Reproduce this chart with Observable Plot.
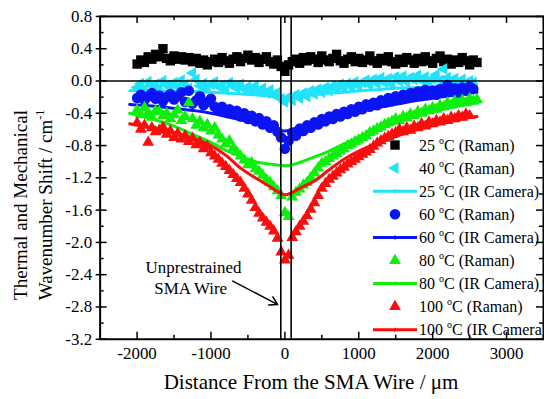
<!DOCTYPE html>
<html><head><meta charset="utf-8">
<script src="https://cdn.jsdelivr.net/npm/d3@7"></script>
<script src="https://cdn.jsdelivr.net/npm/@observablehq/plot@0.6"></script>
<style>
html,body{margin:0;padding:0;background:#fff;}
#wrap{position:relative;width:544px;height:399px;overflow:hidden;}
</style></head><body><div id="wrap"></div>
<script>
// ---- data ----
const distance = [-2000,-1950,-1900,-1850,-1800,-1750,-1700,-1650,-1600,-1550,
  -1500,-1450,-1400,-1350,-1300,-1250,-1200,-1150,-1100,-1050,
  -1000,-950,-900,-850,-800,-750,-700,-650,-600,-550,
  -500,-450,-400,-350,-300,-250,-200,-150,-100,-50,
  0,50,100,150,200,250,300,350,400,450,
  500,550,600,650,700,750,800,850,900,950,
  1000,1050,1100,1150,1200,1250,1300,1350,1400,1450,
  1500,1550,1600,1650,1700,1750,1800,1850,1900,1950,
  2000,2050,2100,2150,2200,2250,2300,2350,2400,2450,
  2500,2550,2600];
const raman25 = [0.21,0.26,0.23,0.30,0.27,0.33,0.30,0.40,0.28,0.25,
  0.31,0.27,0.30,0.26,0.29,0.24,0.28,0.22,0.26,0.20,
  0.24,0.27,0.23,0.29,0.25,0.22,0.27,0.30,0.24,0.28,
  0.32,0.26,0.29,0.23,0.27,0.30,0.24,0.21,0.26,0.18,
  0.12,0.20,0.24,0.27,0.22,0.29,0.25,0.30,0.27,0.23,
  0.31,0.26,0.24,0.28,0.33,0.25,0.22,0.27,0.30,0.24,
  0.28,0.23,0.26,0.31,0.25,0.22,0.28,0.25,0.30,0.24,
  0.21,0.27,0.23,0.29,0.26,0.22,0.28,0.24,0.30,0.25,
  0.22,0.28,0.31,0.24,0.27,0.21,0.26,0.23,0.29,0.25,
  0.20,0.26,0.23];
const raman40 = [-0.08,-0.03,-0.10,-0.01,-0.06,-0.04,-0.09,0.00,-0.05,-0.08,
  -0.02,-0.07,0.01,-0.04,-0.09,0.10,0.02,-0.06,-0.03,-0.10,
  -0.04,-0.01,-0.07,-0.05,-0.11,-0.02,-0.06,-0.09,-0.04,-0.10,
  -0.07,-0.12,-0.06,-0.13,-0.09,-0.15,-0.11,-0.17,-0.14,-0.22,
  -0.26,-0.20,-0.24,-0.17,-0.21,-0.15,-0.19,-0.12,-0.16,-0.10,
  -0.14,-0.08,-0.12,-0.06,-0.10,-0.04,-0.09,-0.03,-0.07,-0.01,
  -0.06,-0.02,0.01,-0.05,0.02,-0.03,0.04,-0.02,0.03,-0.04,
  0.05,0.00,0.06,-0.01,0.04,0.02,0.07,0.01,0.05,-0.02,
  0.03,0.08,0.01,0.15,0.04,-0.01,0.03,-0.03,0.02,-0.04,
  0.00,-0.02,null];
const raman60 = [-0.21,-0.17,-0.24,-0.19,-0.15,-0.22,-0.18,-0.25,-0.20,-0.16,
  -0.23,-0.19,-0.14,-0.26,-0.12,-0.28,-0.24,-0.19,-0.30,-0.26,
  -0.22,-0.32,-0.36,-0.32,-0.38,-0.35,-0.41,-0.37,-0.44,-0.40,
  -0.47,-0.43,-0.50,-0.46,-0.54,-0.50,-0.58,-0.55,-0.63,-0.70,
  -0.84,-0.74,-0.64,-0.68,-0.59,-0.62,-0.55,-0.58,-0.51,-0.54,
  -0.47,-0.50,-0.44,-0.47,-0.41,-0.44,-0.38,-0.41,-0.35,-0.38,
  -0.32,-0.35,-0.29,-0.32,-0.27,-0.30,-0.24,-0.27,-0.21,-0.25,
  -0.19,-0.23,-0.17,-0.21,-0.15,-0.19,-0.13,-0.18,-0.11,-0.16,
  -0.12,-0.17,-0.10,-0.14,-0.05,-0.12,-0.09,-0.15,-0.08,-0.12,
  -0.07,-0.10,null];
const raman80 = [-0.36,-0.42,-0.33,-0.39,-0.45,-0.37,-0.38,-0.43,-0.40,-0.47,
  -0.42,-0.36,-0.49,-0.44,-0.27,-0.47,-0.55,-0.50,-0.58,-0.54,
  -0.62,-0.58,-0.67,-0.72,-0.78,-0.74,-0.83,-0.88,-0.93,-0.98,
  -1.04,-1.01,-1.09,-1.12,-1.17,-1.22,-1.26,-1.31,-1.36,-1.42,
  -1.63,-1.68,-1.44,-1.38,-1.34,-1.29,-1.26,-1.20,-1.14,-1.08,
  -1.02,-1.00,-0.96,-0.93,-0.90,-0.87,-0.84,-0.80,-0.78,-0.75,
  -0.73,-0.70,-0.68,-0.64,-0.62,-0.59,-0.57,-0.54,-0.52,-0.50,
  -0.47,-0.49,-0.44,-0.46,-0.41,-0.43,-0.38,-0.40,-0.35,-0.37,
  -0.33,-0.35,-0.30,-0.32,-0.27,-0.30,-0.25,-0.28,-0.24,-0.27,
  -0.22,-0.25,-0.23];
const raman100 = [-0.52,-0.60,-0.55,-0.76,-0.58,-0.63,-0.61,-0.57,-0.66,-0.62,
  -0.70,-0.65,-0.72,-0.68,-0.75,-0.71,-0.79,-0.76,-0.84,-0.81,
  -0.89,-0.93,-0.97,-1.02,-1.06,-1.11,-1.16,-1.21,-1.26,-1.33,
  -1.40,-1.48,-1.57,-1.64,-1.70,-1.75,-1.80,-1.86,-1.95,-2.12,
  -2.22,-2.16,-1.94,-1.87,-1.80,-1.74,-1.67,-1.59,-1.51,-1.42,
  -1.33,-1.27,-1.22,-1.18,-1.14,-1.10,-1.07,-1.03,-1.00,-0.97,
  -0.94,-0.91,-0.88,-0.85,-0.81,-0.77,-0.74,-0.71,-0.69,-0.66,
  -0.64,-0.60,-0.63,-0.58,-0.61,-0.56,-0.58,-0.53,-0.56,-0.51,
  -0.53,-0.49,-0.51,-0.47,-0.49,-0.45,-0.47,-0.43,-0.45,-0.41,
  -0.43,null,null];

const irDistance = [-2100,-1800,-1500,-1200,-1000,-800,-600,-400,-200,-100,0,100,200,400,600,800,1000,1200,1500,1800,2100,2400,2600];
const ir25  = [-0.12,-0.12,-0.13,-0.13,-0.14,-0.15,-0.16,-0.17,-0.19,-0.20,-0.20,-0.20,-0.19,-0.17,-0.15,-0.14,-0.12,-0.11,-0.09,-0.08,-0.06,-0.05,-0.04];
const ir60  = [-0.29,-0.31,-0.34,-0.37,-0.40,-0.44,-0.48,-0.53,-0.58,-0.60,-0.62,-0.60,-0.57,-0.52,-0.47,-0.42,-0.38,-0.34,-0.29,-0.24,-0.20,-0.16,-0.14];
const ir80  = [-0.40,-0.47,-0.56,-0.68,-0.76,-0.86,-0.93,-1.00,-1.03,-1.04,-1.05,-1.04,-1.01,-0.94,-0.87,-0.78,-0.70,-0.62,-0.52,-0.43,-0.36,-0.30,-0.27];
const ir100 = [-0.53,-0.58,-0.64,-0.72,-0.80,-0.92,-1.08,-1.20,-1.31,-1.37,-1.41,-1.38,-1.33,-1.24,-1.10,-0.97,-0.87,-0.79,-0.69,-0.60,-0.53,-0.47,-0.44];

const xTicks = [-2000,-1000,0,1000,2000,3000];
const xMinorTicks = [-2500,-1500,-500,500,1500,2500,3500];
const yTicks = [-3.2,-2.8,-2.4,-2.0,-1.6,-1.2,-0.8,-0.4,0.0,0.4,0.8];
const yMinorTicks = [-3.0,-2.6,-2.2,-1.8,-1.4,-1.0,-0.6,-0.2,0.2,0.6];
const wireEdges = [-55, 85];
const annotationLines = ["Unprestrained", "SMA Wire"];
const annotationX = [-1236, -1274];
const annotationY = [-2.306, -2.578];
const arrowFrom = [-705, -2.48];
const arrowTo = [-97, -2.77];
const legendTemps = ["25","40","25","60","60","80","80","100","100"];
const legendMethods = ["Raman","Raman","IR Camera","Raman","IR Camera","Raman","IR Camera","Raman","IR Camera"];
const xTitle = "Distance From the SMA Wire / \u03bcm";
const yTitle1 = "Thermal and Mechanical";
const yTitle2 = "Wavenumber Shift / cm";

// ---- build tables ----
const pts = ys => distance.map((x, i) => ({x, y: ys[i]})).filter(d => d.y != null);
const ln = ys => irDistance.map((x, i) => ({x, y: ys[i]}));

const C = {black:"#000000", cyan:"#1fe3fa", blue:"#0a14f5", green:"#0cf00c", red:"#fa0d0d"};
const FONT = "'Liberation Serif','Times New Roman',Times,serif";
const W = 546, H = 399, ML = 100, MR = 1, MT = 16, MB = 59;
const FW = W - ML - MR, FH = H - MT - MB;
const rSq = 5.3, rTri = 4.4, rCir = 5.3;

const chart = Plot.plot({
  width: W, height: H,
  marginLeft: ML, marginRight: MR, marginTop: MT, marginBottom: MB,
  x: {domain: [-2500, 3500]},
  y: {domain: [-3.2, 0.8]},
  style: {fontFamily: FONT, fontSize: "17px", color: "#000", background: "#fff", overflow: "visible"},
  marks: [
    Plot.dot(pts(raman25), {x: "x", y: "y", symbol: "square", r: rSq, fill: C.black, stroke: "none"}),
    Plot.line(ln(ir25), {x: "x", y: "y", stroke: C.cyan, strokeWidth: 3, curve: "catmull-rom"}),
    Plot.dot(pts(raman40), {x: "x", y: "y", symbol: "triangle", rotate: -90, r: rTri, fill: C.cyan, stroke: "none"}),
    Plot.dot(pts(raman60), {x: "x", y: "y", symbol: "circle", r: rCir, fill: C.blue, stroke: "none"}),
    Plot.line(ln(ir60), {x: "x", y: "y", stroke: C.blue, strokeWidth: 3, curve: "catmull-rom"}),
    Plot.dot(pts(raman80), {x: "x", y: "y", symbol: "triangle", r: rTri, fill: C.green, stroke: "none"}),
    Plot.line(ln(ir80), {x: "x", y: "y", stroke: C.green, strokeWidth: 3, curve: "catmull-rom"}),
    Plot.dot(pts(raman100), {x: "x", y: "y", symbol: "triangle", r: rTri, fill: C.red, stroke: "none"}),
    Plot.line(ln(ir100), {x: "x", y: "y", stroke: C.red, strokeWidth: 3, curve: "catmull-rom"}),
    Plot.ruleY([0], {stroke: "#000", strokeWidth: 1.6}),
    Plot.ruleX(wireEdges, {stroke: "#000", strokeWidth: 1.6}),
    Plot.text(annotationLines, {x: (d, i) => annotationX[i], y: (d, i) => annotationY[i], text: d => d, fontSize: 17, fill: "#000"}),
    Plot.arrow([0], {x1: () => arrowFrom[0], y1: () => arrowFrom[1], x2: () => arrowTo[0], y2: () => arrowTo[1], stroke: "#000", strokeWidth: 1.5, headLength: 9}),
    // ticks (inward)
    Plot.tickX(xTicks, {x: d => d, insetTop: FH - 7, stroke: "#000", strokeWidth: 1.5}),
    Plot.tickX(xMinorTicks, {x: d => d, insetTop: FH - 4, stroke: "#000", strokeWidth: 1.5}),
    Plot.tickX(xTicks, {x: d => d, insetBottom: FH - 7, stroke: "#000", strokeWidth: 1.5}),
    Plot.tickX(xMinorTicks, {x: d => d, insetBottom: FH - 4, stroke: "#000", strokeWidth: 1.5}),
    Plot.tickY(yTicks, {y: d => d, insetRight: FW - 7, insetLeft: -4, stroke: "#000", strokeWidth: 1.5}),
    Plot.tickY(yMinorTicks, {y: d => d, insetRight: FW - 4, stroke: "#000", strokeWidth: 1.5}),
    Plot.tickY(yTicks, {y: d => d, insetLeft: FW - 7, stroke: "#000", strokeWidth: 1.5}),
    Plot.tickY(yMinorTicks, {y: d => d, insetLeft: FW - 4, stroke: "#000", strokeWidth: 1.5}),
    Plot.frame({stroke: "#000", strokeWidth: 2}),
    Plot.axisX(xTicks, {tickSize: 0, tickPadding: 8, tickFormat: d => String(d), fontSize: 17, label: null}),
    Plot.axisY(yTicks, {tickSize: 0, tickPadding: 8, tickFormat: d => d.toFixed(1), fontSize: 17, label: null})
  ]
});
const wrap = document.getElementById("wrap");
wrap.appendChild(chart);

// ---- overlay: axis titles and legend ----
const svg = d3.select(wrap).append("svg")
  .attr("width", 544).attr("height", 399)
  .style("position", "absolute").style("left", "0px").style("top", "0px")
  .style("font-family", FONT);

svg.append("text").attr("x", 311).attr("y", 389).attr("text-anchor", "middle")
  .attr("font-size", 21).attr("fill", "#000").text(xTitle);
svg.append("text").attr("transform", "translate(27,205) rotate(-90)").attr("text-anchor", "middle")
  .attr("font-size", 19).attr("fill", "#000").text(yTitle1);
const t2 = svg.append("text").attr("transform", "translate(52,205) rotate(-90)").attr("text-anchor", "middle")
  .attr("font-size", 19).attr("fill", "#000");
t2.append("tspan").text(yTitle2);
t2.append("tspan").attr("font-size", 12).attr("dy", -8).text("-1");

const kinds = ["square","tri-left","line","circle","line","tri-up","line","tri-up","line"];
const colors = [C.black, C.cyan, C.cyan, C.blue, C.blue, C.green, C.green, C.red, C.red];
const rowY = i => 145 + i * 23.1;
legendTemps.forEach((t, i) => {
  const g = svg.append("g").attr("transform", `translate(0,${rowY(i)})`);
  const k = kinds[i], c = colors[i];
  if (k === "line") {
    g.append("line").attr("x1", 373).attr("x2", 417).attr("y1", 0).attr("y2", 0).attr("stroke", c).attr("stroke-width", 3);
    g.append("line").attr("x1", 395).attr("x2", 395).attr("y1", -2).attr("y2", 2).attr("stroke", c).attr("stroke-width", 1.5);
  } else {
    const type = k === "square" ? d3.symbolSquare : k === "circle" ? d3.symbolCircle : d3.symbolTriangle;
    const r = k === "square" ? rSq : k === "circle" ? rCir : rTri;
    g.append("path").attr("d", d3.symbol(type, Math.PI * r * r)())
      .attr("transform", `translate(395,0)${k === "tri-left" ? " rotate(-90)" : ""}`)
      .attr("fill", c);
  }
  const tx = g.append("text").attr("x", 419).attr("y", 0).attr("dy", "0.35em").attr("font-size", 16).attr("fill", "#000");
  tx.append("tspan").text(t + " ");
  tx.append("tspan").attr("font-size", 10).attr("dy", -7).text("o");
  tx.append("tspan").attr("dy", 7).text("C (" + legendMethods[i] + ")");
});
</script></body></html>
